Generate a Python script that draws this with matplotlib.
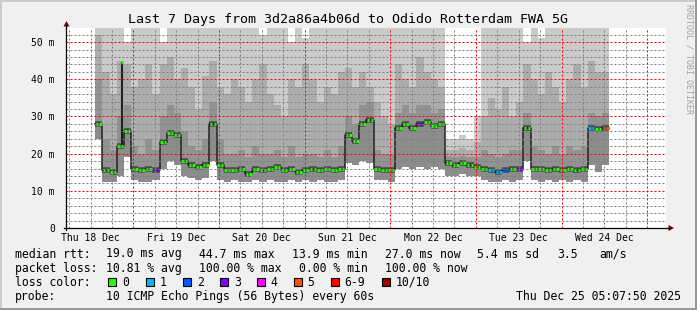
import matplotlib
matplotlib.use("Agg")
import matplotlib.pyplot as plt
import matplotlib.dates as mdates
from matplotlib.ticker import MultipleLocator, FuncFormatter, NullFormatter
from matplotlib.patches import Polygon, Rectangle
from matplotlib.lines import Line2D
from datetime import datetime, timedelta

plt.rcParams['font.family'] = ['DejaVu Sans Mono', 'DejaVu Sans']

W, H = 697, 310

# time window of the graph
start = datetime(2025, 12, 18, 5, 7, 50)
end = datetime(2025, 12, 25, 5, 7, 50)
first_sample = datetime(2025, 12, 18, 13, 20)
step_h = 2

# per-step values (ms)
median = [28, 15.5, 15, 22, 26, 16, 15.5, 16, 15.5, 23, 25.5, 25,
          18, 17, 16.5, 17, 28, 17, 15.5, 15.5, 16, 14.5, 16, 15.5,
          16, 16.5, 15.5, 16, 15, 15.5, 16, 15.5, 16, 15.5, 16, 25,
          23.5, 28, 29, 16, 15.5, 15.5, 27, 28, 27, 28, 28.5, 27.5,
          28, 17.5, 17, 17.5, 17, 16.5, 16, 15.5, 15, 15.5, 16, 16,
          27, 16, 16, 15.5, 16, 15.5, 16, 15.5, 16, 27, 26.5, 27]
lowest = [24, 12.5, 12.5, 14, 19, 13, 12.5, 12.5, 13, 16, 18, 17,
          14, 13.5, 13, 13.5, 18, 13, 12.5, 13, 12.5, 12.5, 13, 12.5,
          13, 12.5, 12.5, 13, 12.5, 13, 12.5, 13, 12.5, 12.5, 13, 17.5,
          17, 18, 17.5, 13, 13, 12.5, 16, 16.5, 16, 16.5, 16, 16.5,
          16, 14, 14, 14.5, 14, 14, 13, 12.5, 12.5, 13, 12.5, 13,
          18, 13, 12.5, 13, 12.5, 13, 12.5, 13, 12.5, 17, 15, 17]
upper_dark = [40, 24, 21, 30, 33, 22, 20, 24, 21, 30, 33, 31,
              26, 22, 21, 24, 34, 24, 20, 20, 21, 19, 22, 20,
              20, 21, 19, 22, 19, 20, 20, 19, 21, 19, 22, 30,
              28, 33, 34, 21, 20, 20, 31, 33, 31, 33, 33, 31,
              32, 19.5, 19, 19.5, 19, 19, 21, 20, 19, 20, 21, 21,
              31, 22, 21, 20, 22, 20, 22, 21, 22, 31, 30, 31]
upper_mid = [52, 42, 36, 45, 44, 38, 40, 44, 36, 44, 46, 40,
             43, 38, 32, 41, 45, 38, 36, 40, 38, 34, 40, 44,
             36, 33, 30, 40, 38, 44, 40, 34, 38, 36, 42, 43,
             38, 42, 38, 34, 30, 28, 44, 40, 38, 46, 42, 40,
             38, 21, 21, 21.5, 21, 23, 30, 35, 32, 38, 30, 34,
             44, 40, 36, 42, 38, 34, 40, 44, 38, 45, 42, 42]
highest = [54, 54, 54, 54, 50, 54, 54, 54, 54, 50, 54, 54,
           54, 54, 54, 54, 54, 54, 54, 54, 54, 54, 54, 52,
           54, 54, 54, 50, 54, 51, 54, 54, 54, 54, 54, 54,
           54, 54, 54, 54, 54, 54, 54, 54, 54, 54, 54, 54,
           54, 24, 24, 25, 24, 30, 54, 54, 54, 54, 54, 54,
           50, 54, 51, 54, 54, 54, 54, 54, 54, 54, 54, 54]
lost = [0, 0, 0, 0, 0, 0, 0, 0, 3, 0, 0, 0,
        0, 0, 0, 0, 0, 0, 0, 0, 0, 0, 0, 0,
        0, 0, 0, 0, 0, 0, 0, 0, 0, 0, 0, 0,
        0, 0, 0, 0, 0, 0, 0, 0, 0, 3, 0, 0,
        0, 0, 0, 0, 0, 0, 0, 1, 1, 2, 0, 3,
        0, 0, 0, 0, 0, 0, 0, 0, 0, 1, 0, 5]

# single short spike of the median
spike_time = datetime(2025, 12, 18, 20, 50)
spike_from = 22
spike_value = 44.7

loss_labels = ['0', '1', '2', '3', '4', '5', '6-9', '10/10']
loss_colors = ['#26ff00', '#00b8ff', '#0059ff', '#7e00ff', '#ff00ff',
               '#ff5500', '#ff0000', '#a10000']


def loss_color(n):
    if n <= 5:
        return loss_colors[n]
    if n < 10:
        return loss_colors[6]
    return loss_colors[7]


def fx(x):
    return x / W


def fy(y):
    return 1 - y / H


fig = plt.figure(figsize=(W / 100, H / 100), dpi=100, facecolor='#f0f0f0')
ax = fig.add_axes([fx(66), fy(228), (665.5 - 66) / W, (228 - 28) / H])
ax.set_facecolor('white')

n = len(median)
edges = [first_sample + timedelta(hours=step_h * i) for i in range(n + 1)]
t = mdates.date2num(edges)


def ext(a):
    return list(a) + [a[-1]]


def band(lo, hi, color):
    ax.fill_between(t, ext(lo), ext(hi), step='post', color=color, lw=0, zorder=1)


band(lowest, highest, '#cacaca')
band(lowest, upper_mid, '#acacac')
band(lowest, median, '#8c8c8c')
band(median, upper_dark, '#929292')

# dark core round the median, thin connectors between steps
ax.hlines(median, t[:-1], t[1:], colors='#4a4a4a', lw=4, zorder=1.4)
ax.step(t, ext(median), where='post', color='#202020', lw=1.1, zorder=1.5)

# median dots coloured by loss (two per step)
cols = [loss_color(v) for v in lost]
for a, b in [(0.08, 0.42), (0.58, 0.92)]:
    lo_ = [t[i] + (t[i + 1] - t[i]) * a for i in range(n)]
    hi_ = [t[i] + (t[i + 1] - t[i]) * b for i in range(n)]
    ax.hlines(median, lo_, hi_, colors=cols, lw=2.2, zorder=1.8)

st = mdates.date2num(spike_time)
ax.vlines(st, spike_from, spike_value, color='#202020', lw=1.5, zorder=1.6)
ax.hlines(spike_value, st - 0.012, st + 0.012, color=loss_colors[0], lw=2.2, zorder=1.8)

ax.set_xlim(mdates.date2num(start), mdates.date2num(end))
ax.set_ylim(0, 53.8)

ax.xaxis.set_major_locator(mdates.DayLocator())
ax.xaxis.set_major_formatter(NullFormatter())
ax.xaxis.set_minor_locator(mdates.HourLocator(byhour=[6, 12, 18]))


def xfmt(x, pos):
    d = mdates.num2date(x)
    return d.strftime('%a %d %b') if d.hour == 12 else ''


ax.xaxis.set_minor_formatter(FuncFormatter(xfmt))
ax.yaxis.set_major_locator(MultipleLocator(10))
ax.yaxis.set_minor_locator(MultipleLocator(2))
ax.yaxis.set_major_formatter(FuncFormatter(lambda v, p: '0' if v == 0 else '%d m' % v))

ax.set_axisbelow(False)
ax.grid(which='major', color=(1, 0, 0, 0.35), ls=(0, (2, 2)), lw=0.72)
ax.grid(which='minor', color=(0.5, 0.5, 0.5, 0.35), ls=(0, (2, 2)), lw=0.72)
ax.tick_params(axis='both', which='both', length=0, labelsize=7, colors='#000000')
ax.tick_params(axis='y', pad=8)
ax.tick_params(axis='x', which='minor', pad=3.5)
for s in ax.spines.values():
    s.set_visible(False)

# axis lines with arrows
fig.add_artist(Line2D([fx(66), fx(66)], [fy(230), fy(25)], color='black', lw=0.9))
fig.add_artist(Line2D([fx(64), fx(670)], [fy(228), fy(228)], color='black', lw=0.9))
fig.add_artist(Polygon([(fx(66.5), fy(21)), (fx(63.5), fy(26.5)), (fx(69.5), fy(26.5))],
                       closed=True, color='#800000', lw=0))
fig.add_artist(Polygon([(fx(674), fy(228)), (fx(668.5), fy(225)), (fx(668.5), fy(231))],
                       closed=True, color='#800000', lw=0))

# frame
fig.add_artist(Rectangle((0, fy(2)), 1, fy(0) - fy(2), color='#cbcbcb', lw=0))
fig.add_artist(Rectangle((0, 0), fx(2), 1, color='#cbcbcb', lw=0))
fig.add_artist(Rectangle((0, 0), 1, fy(308), color='#999999', lw=0))
fig.add_artist(Rectangle((fx(695), 0), fx(2), 1, color='#999999', lw=0))

fig.text(fx(347.5), fy(19), 'Last 7 Days from 3d2a86a4b06d to Odido Rotterdam FWA 5G',
         ha='center', va='center', fontsize=9.6)
fig.text(fx(689), fy(4), 'RRDTOOL / TOBI OETIKER', rotation=270, ha='center', va='top',
         fontsize=6, color='#a0a0a0')

fs = 8.3
rows = [254, 268.3, 282.3, 296.7]
row1 = [(16, 'median rtt:'), (107, '19.0 ms avg'), (200, '44.7 ms max'), (293, '13.9 ms min'),
        (386, '27.0 ms now'), (478, '5.4 ms sd'), (558, '3.5'), (600, 'am/s')]
row2 = [(16, 'packet loss:'), (107, '10.81 % avg'), (200, '100.00 % max'), (300, '0.00 % min'),
        (386, '100.00 % now')]
for x, s in row1:
    fig.text(fx(x - 1), fy(rows[0]), s, ha='left', va='center', fontsize=fs)
for x, s in row2:
    fig.text(fx(x - 1), fy(rows[1]), s, ha='left', va='center', fontsize=fs)

fig.text(fx(15), fy(rows[2]), 'loss color:', ha='left', va='center', fontsize=fs)
box_x = [108.3, 145.7, 182.7, 220, 257.3, 294, 331, 381.7]
lab_x = [123, 161, 197.7, 235, 271.7, 308, 345, 396.7]
for bx, lx, lab, col in zip(box_x, lab_x, loss_labels, loss_colors):
    fig.add_artist(Rectangle((fx(bx), fy(rows[2] + 4)), 8 / W, 8 / H,
                             facecolor=col, edgecolor='black', lw=0.8))
    fig.text(fx(lx - 1), fy(rows[2]), lab, ha='left', va='center', fontsize=fs)

fig.text(fx(15), fy(rows[3]), 'probe:', ha='left', va='center', fontsize=fs)
fig.text(fx(106), fy(rows[3]), '10 ICMP Echo Pings (56 Bytes) every 60s',
         ha='left', va='center', fontsize=fs)
fig.text(fx(681), fy(rows[3]), 'Thu Dec 25 05:07:50 2025', ha='right', va='center', fontsize=fs)

fig.savefig('out.png', dpi=100, facecolor=fig.get_facecolor())
